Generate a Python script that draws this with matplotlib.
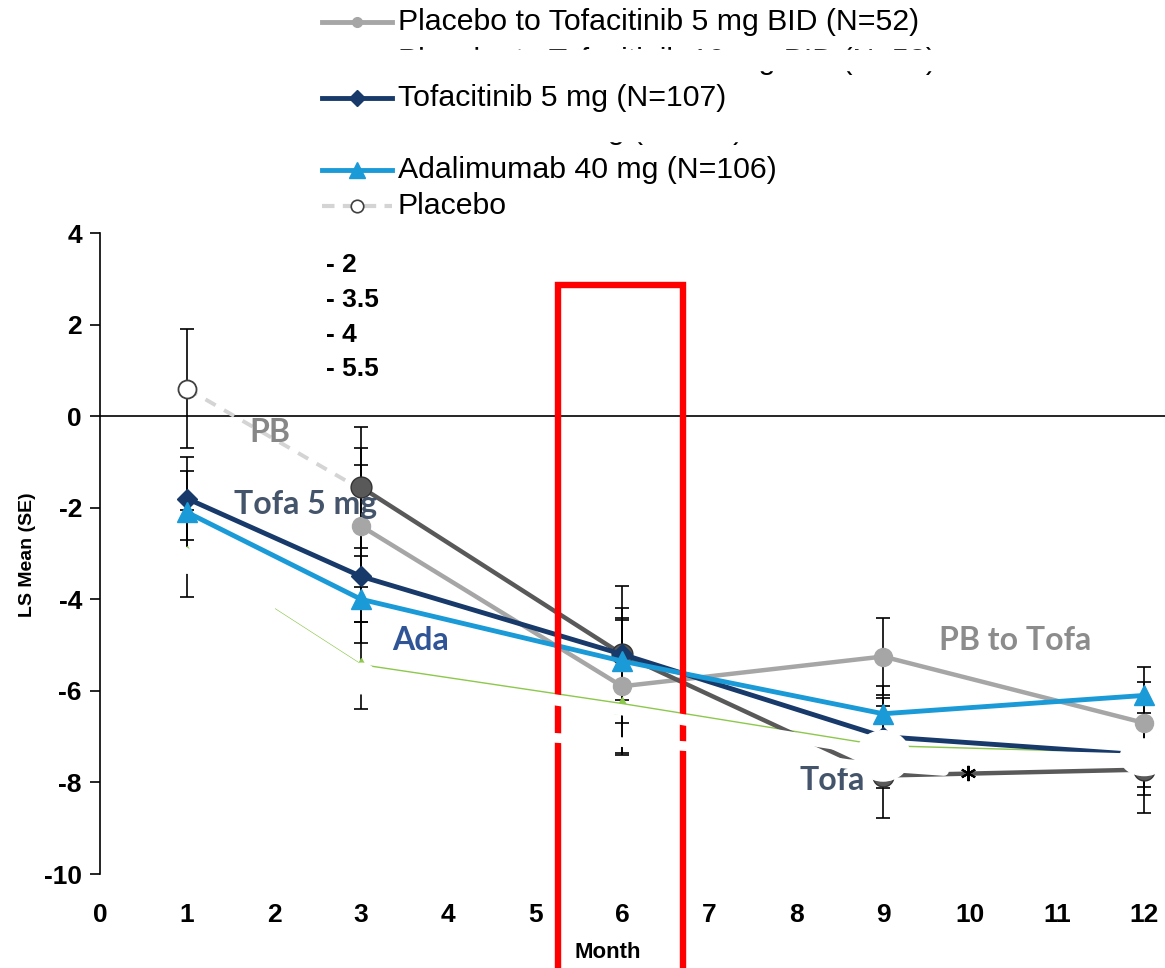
import matplotlib
matplotlib.use("Agg")
import matplotlib.pyplot as plt
from matplotlib.lines import Line2D
from matplotlib.patches import Rectangle, Ellipse

plt.rcParams["axes.unicode_minus"] = False

# data
months = [1, 3, 6, 9, 12]
months_late = [3, 6, 9, 12]
months_pb = [1, 3]

pb_to_tofa = [-2.4, -5.9, -5.25, -6.7]
pb_to_tofa_se = [1.33, 1.45, 0.85, 0.9]
tofa10 = [-1.55, -5.2, -7.85, -7.72]
tofa10_se = [1.32, 1.5, 0.92, 0.95]
tofa5 = [-1.8, -3.5, -5.2, -7.0, -7.4]
tofa5_se = [0.9, 1.0, 1.0, 0.85, 0.7]
ada = [-2.1, -4.0, -5.35, -6.5, -6.1]
ada_se = [0.9, 0.95, 0.95, 0.6, 0.63]
placebo = [0.6, -1.6]
placebo_se = [1.3, 0.9]
hidden = [-3.0, -5.45, -6.3, -7.22, -7.38]
hidden_se = [0.95, 0.95, 1.1, 0.9, 0.9]

legend_labels = ["Placebo to Tofacitinib 5 mg BID (N=52)",
                 "Tofacitinib 5 mg (N=107)",
                 "Adalimumab 40 mg (N=106)",
                 "Placebo"]
hidden_legend = ["Placebo to Tofacitinib 10 mg BID (N=53)",
                 "Tofacitinib 10 mg (N=108)"]
side_notes = ["- 2", "- 3.5", "- 4", "- 5.5"]

c_pbt = "#a6a6a6"
c_t10 = "#595959"
c_t5 = "#173a6b"
c_ada = "#1a9ad6"
c_pb = "#d4d4d4"
c_green = "#8cc84b"
c_red = "#ff0000"

W, H = 1165, 968


def fx(px):
    return px / W


def fy(py):
    return 1 - py / H


fig = plt.figure(figsize=(W / 100, H / 100), dpi=100)
ax = fig.add_axes([fx(100), 1 - 874 / H, 1 - fx(100), (874 - 233) / H])
ax.set_xlim(0, 12.24)
ax.set_ylim(-10, 4)

for s in ["top", "right", "bottom"]:
    ax.spines[s].set_visible(False)
ax.spines["left"].set_linewidth(1.2)
ax.axhline(0, color="black", lw=1.2, zorder=1)

ax.set_xticks(range(0, 13))
ax.set_yticks(range(-10, 5, 2))
ax.tick_params(axis="x", length=0, pad=21)
ax.tick_params(axis="y", length=7, width=1.2, pad=6)
for lab in ax.get_xticklabels():
    lab.set_fontfamily(["Liberation Sans", "DejaVu Sans"])
    lab.set_fontweight("bold")
    lab.set_fontsize(19)
for lab in ax.get_yticklabels():
    lab.set_fontfamily(["Liberation Sans", "DejaVu Sans"])
    lab.set_fontweight("bold")
    lab.set_fontsize(19)

# error bars
eb = dict(fmt="none", ecolor="black", elinewidth=1.2, capsize=5, capthick=1.2, zorder=2)
ax.errorbar(months_late, pb_to_tofa, yerr=pb_to_tofa_se, **eb)
ax.errorbar(months_late, tofa10, yerr=tofa10_se, **eb)
ax.errorbar(months, tofa5, yerr=tofa5_se, **eb)
ax.errorbar(months, ada, yerr=ada_se, **eb)
ax.errorbar(months_pb, placebo, yerr=placebo_se, **eb)
ax.errorbar(months, hidden, yerr=hidden_se, **eb)

# series
ax.plot(months, hidden, color=c_green, lw=2.5, marker="^", ms=11, zorder=3)
ax.plot(months_pb, placebo, color=c_pb, lw=2.8, ls=(0, (3, 2.5)), zorder=3)
ax.plot(months_late, pb_to_tofa, color=c_pbt, lw=3.2, marker="o", ms=13, zorder=4)
ax.plot(months_late, tofa10, color=c_t10, lw=3.2, marker="o", ms=15,
        mec="#333333", zorder=4)
ax.plot(months, tofa5, color=c_t5, lw=3.5, marker="D", ms=10, zorder=5)
ax.plot(months, ada, color=c_ada, lw=3.5, marker="^", ms=14, zorder=5)
ax.plot(months_pb[:1], placebo[:1], ls="none", marker="o", ms=13, mfc="white",
        mec="#404040", mew=1.3, zorder=5)

# annotations
tfont = ["Lato", "DejaVu Sans"]
ax.text(1.95, -0.35, "PB", color="#878787", fontsize=23, fontweight="bold",
        family=tfont, ha="center", va="center", zorder=6)
ax.text(2.36, -1.94, "Tofa 5 mg", color="#44546a", fontsize=23, fontweight="bold",
        family=tfont, ha="center", va="center", zorder=6)
ax.text(3.68, -4.89, "Ada", color="#2f5597", fontsize=23, fontweight="bold",
        family=tfont, ha="center", va="center", zorder=6)
ax.text(10.52, -4.89, "PB to Tofa", color="#8c8c8c", fontsize=23, fontweight="bold",
        family=tfont, ha="center", va="center", zorder=6)
ax.text(8.41, -7.95, "Tofa", color="#44546a", fontsize=23, fontweight="bold",
        family=tfont, ha="center", va="center", zorder=6)
for i, note in enumerate(side_notes):
    ax.text(2.6, 3.3 - i * 0.76, note, fontsize=19, fontweight="bold",
            family=["Liberation Sans", "DejaVu Sans"], ha="left", va="center")

# red box
ax.add_patch(Rectangle((5.26, -12.4), 1.44, 12.4 + 2.86, fill=False,
                       edgecolor=c_red, lw=4.6, clip_on=False, zorder=7))

# white patches covering part of the chart (as in the source image)
wx = [1.0, 3, 6, 9, 12]
wy = [v - 0.115 for v in hidden]
ax.plot(wx, wy, color="white", lw=8, solid_capstyle="round", zorder=8)
ax.plot([0.95, 1.95], [-2.95, -4.2], color="white", lw=8,
        solid_capstyle="round", zorder=8)
ax.plot([4.6, 6, 7.5, 8.6, 9.7], [-6.95, -7.12, -7.3, -7.6, -7.75], color="white",
        lw=7, solid_capstyle="round", zorder=8)
ax.plot([3], [-5.72], ls="none", marker="o", ms=22, color="white", zorder=8)
ax.plot([1], [-3.2], ls="none", marker="o", ms=14, color="white", zorder=8)
ax.add_patch(Ellipse((9, -7.42), 0.62, 1.1, color="white", zorder=8))
ax.add_patch(Ellipse((12, -7.45), 0.55, 0.8, color="white", zorder=8))
ax.plot([9.98], [-7.8], ls="none", marker=(6, 2, 0), ms=11, color="black",
        mew=1.5, zorder=9)

fig.text(fx(28), fy(555), "LS Mean (SE)", rotation=90, fontsize=14,
         fontweight="bold", family=["Liberation Sans", "DejaVu Sans"],
         ha="center", va="center")
fig.text(fx(608), fy(953), "Month", fontsize=16, fontweight="bold",
         family=["Liberation Sans", "DejaVu Sans"], ha="center", va="center")

# legend drawn by hand
lfont = ["Liberation Sans", "DejaVu Sans"]
lsize = 21.8
rows_y = [22, 98, 170, 206]
styles = [
    dict(color=c_pbt, lw=3.5, marker="o", ms=7, mfc=c_pbt, mec=c_pbt),
    dict(color=c_t5, lw=3.5, marker="D", ms=8, mfc=c_t5, mec=c_t5),
    dict(color=c_ada, lw=3.5, marker="^", ms=11, mfc=c_ada, mec=c_ada),
    dict(color=c_pb, lw=3, ls=(0, (3, 2)), marker="o", ms=9, mfc="white",
         mec="#404040", mew=1.2),
]
for y, lab, st in zip(rows_y, legend_labels, styles):
    st = dict(st)
    mk = {k: st.pop(k) for k in ["marker", "ms", "mfc", "mec", "mew"] if k in st}
    fig.add_artist(Line2D([fx(322), fx(392)], [fy(y), fy(y)],
                          transform=fig.transFigure, **st))
    fig.add_artist(Line2D([fx(357)], [fy(y)], transform=fig.transFigure,
                          ls="none", **mk))
    fig.text(fx(398), fy(y), lab, fontsize=lsize, family=lfont, ha="left",
             va="center")

# legend rows that are mostly covered in the source
fig.text(fx(398), fy(61), hidden_legend[0], fontsize=lsize, family=lfont,
         ha="left", va="center", zorder=3)
fig.text(fx(398), fy(131), hidden_legend[1], fontsize=lsize, family=lfont,
         ha="left", va="center", zorder=3)
fig.add_artist(Rectangle((fx(300), fy(70)), fx(700), (70 - 50) / H,
                         transform=fig.transFigure, color="white", zorder=5))
fig.add_artist(Rectangle((fx(300), fy(141)), fx(700), (141 - 114) / H,
                         transform=fig.transFigure, color="white", zorder=5))

fig.savefig("out.png", dpi=100, facecolor="white")
